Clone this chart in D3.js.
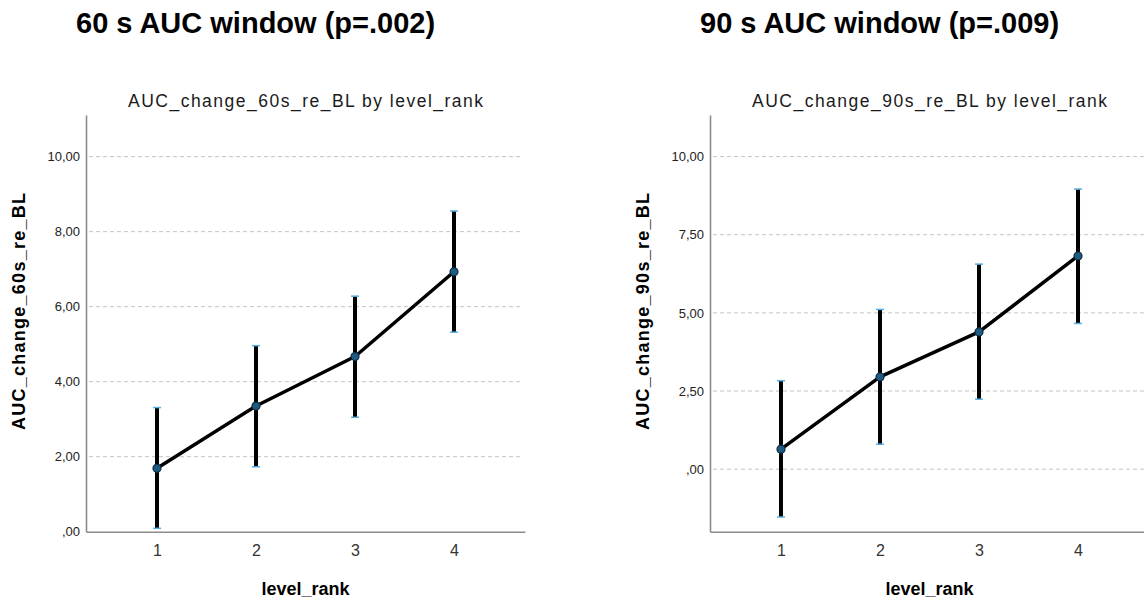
<!DOCTYPE html>
<html>
<head>
<meta charset="utf-8">
<script src="https://cdn.jsdelivr.net/npm/d3@7"></script>
<style>
  body { margin: 0; background: #fff; }
  text { font-family: "Liberation Sans", Arial, sans-serif; }
</style>
</head>
<body>
<div id="chart"></div>
<script>
const w = 1144;
const h = 601;

// datos
const levels = ["1", "2", "3", "4"];

const mean60 = [1.69, 3.35, 4.67, 6.93];
const lower60 = [0.09, 1.73, 3.05, 5.32];
const upper60 = [3.31, 4.96, 6.28, 8.55];
const ticks60 = [0, 2, 4, 6, 8, 10];

const mean90 = [0.64, 2.95, 4.39, 6.82];
const lower90 = [-1.53, 0.8, 2.24, 4.66];
const upper90 = [2.83, 5.11, 6.56, 8.96];
const ticks90 = [0, 2.5, 5, 7.5, 10];

const locale = d3.formatLocale({ decimal: ",", thousands: ".", grouping: [3], currency: ["", ""] });
const fmt = (v) => locale.format(".2f")(v).replace(/^0,/, ",");

const svg = d3.select("#chart").append("svg").attr("width", w).attr("height", h);

const plotTop = 115;
const plotBottom = 531.7;
const plotW = 439;

function drawChart(ax, heading, title, ylabel, mean, lower, upper, ticks, yDomain) {
  const g = svg.append("g");

  const xScale = d3.scalePoint().domain(levels).range([ax, ax + plotW]).padding(0.717);
  const yScale = d3.scaleLinear().domain(yDomain).range([plotBottom, plotTop]);

  // Encabezado
  g.append("text")
    .attr("x", ax - 10)
    .attr("y", 33)
    .attr("font-size", 29)
    .attr("font-weight", "bold")
    .attr("fill", "#000")
    .text(heading);

  // Título
  g.append("text")
    .attr("x", ax + plotW / 2)
    .attr("y", 106.5)
    .attr("text-anchor", "middle")
    .attr("font-size", 17.5)
    .attr("textLength", 355)
    .attr("lengthAdjust", "spacing")
    .attr("fill", "#1a1a1a")
    .text(title);

  // Rejilla
  g.selectAll(".grid")
    .data(ticks.filter((t) => t > yDomain[0]))
    .enter()
    .append("line")
    .attr("x1", ax + 3)
    .attr("x2", ax + plotW - 3)
    .attr("y1", (d) => yScale(d))
    .attr("y2", (d) => yScale(d))
    .attr("stroke", "#c4c4c4")
    .attr("stroke-width", 1)
    .attr("stroke-dasharray", "4,3");

  // Ejes
  const yAxis = g.append("g")
    .attr("transform", `translate(${ax},0)`)
    .call(d3.axisLeft(yScale).tickValues(ticks).tickSize(0).tickPadding(6).tickFormat(fmt));
  yAxis.select(".domain").attr("stroke", "#8c8c8c").attr("stroke-width", 1.6);
  yAxis.selectAll("text").attr("font-size", 13).attr("fill", "#222").style("font-family", '"Liberation Sans", Arial, sans-serif');

  const xAxis = g.append("g")
    .attr("transform", `translate(0,${plotBottom})`)
    .call(d3.axisBottom(xScale).tickSize(0).tickPadding(13));
  xAxis.select(".domain").attr("stroke", "#8c8c8c").attr("stroke-width", 1.6);
  xAxis.selectAll("text").attr("font-size", 16).attr("fill", "#333").style("font-family", '"Liberation Sans", Arial, sans-serif');

  // Etiquetas de ejes
  g.append("text")
    .attr("transform", `translate(${ax - 67.5},311.5) rotate(-90)`)
    .attr("text-anchor", "middle")
    .attr("dy", "0.35em")
    .attr("font-size", 18)
    .attr("font-weight", "bold")
    .attr("textLength", 237)
    .attr("lengthAdjust", "spacing")
    .attr("fill", "#000")
    .text(ylabel);

  g.append("text")
    .attr("x", ax + plotW / 2)
    .attr("y", 595)
    .attr("text-anchor", "middle")
    .attr("font-size", 18)
    .attr("font-weight", "bold")
    .attr("fill", "#000")
    .text("level_rank");

  const rows = levels.map((l, i) => ({ level: l, mean: mean[i], lo: lower[i], hi: upper[i] }));

  // Barras de error
  g.selectAll(".bar")
    .data(rows)
    .enter()
    .append("line")
    .attr("x1", (d) => xScale(d.level))
    .attr("x2", (d) => xScale(d.level))
    .attr("y1", (d) => yScale(d.lo))
    .attr("y2", (d) => yScale(d.hi))
    .attr("stroke", "#000")
    .attr("stroke-width", 4);

  // Línea de medias
  const line = d3.line().x((d) => xScale(d.level)).y((d) => yScale(d.mean));
  g.append("path")
    .datum(rows)
    .attr("d", line)
    .attr("fill", "none")
    .attr("stroke", "#000")
    .attr("stroke-width", 3.5)
    .attr("stroke-linejoin", "round");

  // Extremos
  rows.forEach((d) => {
    [d.lo, d.hi].forEach((v) => {
      g.append("line")
        .attr("x1", xScale(d.level) - 4)
        .attr("x2", xScale(d.level) + 4)
        .attr("y1", yScale(v))
        .attr("y2", yScale(v))
        .attr("stroke", "#5aaee0")
        .attr("stroke-width", 1.5);
    });
  });

  // Puntos
  g.selectAll(".pt")
    .data(rows)
    .enter()
    .append("circle")
    .attr("cx", (d) => xScale(d.level))
    .attr("cy", (d) => yScale(d.mean))
    .attr("r", 4)
    .attr("fill", "#1f5a80")
    .attr("stroke", "#0d2c42")
    .attr("stroke-width", 1.2);
}

drawChart(86, "60 s AUC window (p=.002)", "AUC_change_60s_re_BL by level_rank", "AUC_change_60s_re_BL",
  mean60, lower60, upper60, ticks60, [0, 11.11]);
drawChart(710, "90 s AUC window (p=.009)", "AUC_change_90s_re_BL by level_rank", "AUC_change_90s_re_BL",
  mean90, lower90, upper90, ticks90, [-2.0, 11.33]);
</script>
</body>
</html>
